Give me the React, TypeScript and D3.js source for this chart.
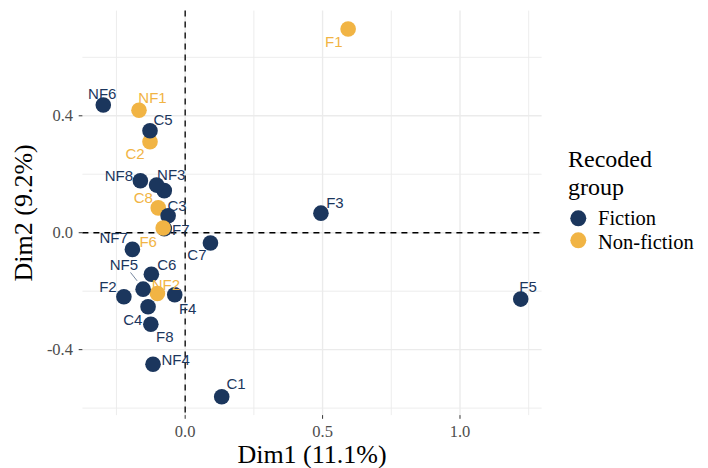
import React from 'react';
import * as d3 from 'd3';

// ---- data ----
const names = ["C1","C2","C8","C4","C5","C3","C6","C7","F1","F2","F3","F4","F5","F7","F6","F8","NF1","NF2","NF3","NF4","NF5","NF6","NF7","NF8","NF9"];
const dim1 = [0.133,-0.128,-0.098,-0.135,-0.128,-0.062,-0.123,0.092,0.593,-0.223,0.494,-0.038,1.221,-0.076,-0.080,-0.125,-0.168,-0.101,-0.076,-0.117,-0.153,-0.298,-0.192,-0.163,-0.104];
const dim2 = [-0.561,0.311,0.085,-0.253,0.349,0.058,-0.142,-0.035,0.697,-0.219,0.067,-0.212,-0.227,0.014,0.016,-0.313,0.419,-0.208,0.144,-0.450,-0.193,0.437,-0.057,0.178,0.163];
const groups = ["Fiction","Non-fiction","Non-fiction","Fiction","Fiction","Fiction","Fiction","Fiction","Non-fiction","Fiction","Fiction","Fiction","Fiction","Fiction","Non-fiction","Fiction","Non-fiction","Non-fiction","Fiction","Fiction","Fiction","Fiction","Fiction","Fiction","Fiction"];
const shownLabels = names.filter((n) => n !== "NF9");
const groupNames = ["Fiction", "Non-fiction"];
const xTicks = [0, 0.5, 1.0];
const xMinor = [-0.25, 0.25, 0.75, 1.25];
const yTicks = [-0.4, 0, 0.4];
const yMinor = [-0.6, -0.2, 0.2, 0.6];

// ---- layout (pixel offsets of repelled labels) ----
const labelOffset: Record<string, [number, number]> = {
  NF6: [-1, -11], NF1: [13.5, -13], C5: [13, -11], C2: [-15, 12], NF8: [-21.5, -5.5],
  NF3: [7, -16.5], C8: [-15, -10], C3: [9, -10.5], F6: [-15, 13.5], F7: [16.5, 1],
  NF7: [-18.7, -12], C7: [-13.5, 11.3], C6: [15.5, -10], NF5: [-19.3, -25], NF2: [8.5, -8.5],
  F4: [13, 13.5], F2: [-16, -10.5], C4: [-15.3, 12.5], F8: [14, 12], NF4: [22.7, -5],
  C1: [14.3, -12.7], F3: [14, -10.5], F5: [7.3, -12], F1: [-14.3, 13],
};

const W = 708, H = 468;
const panel = { left: 82.4, right: 541.6, top: 10.6, bottom: 415.1 };
const colors: Record<string, string> = { Fiction: "#1b365d", "Non-fiction": "#f1b444" };
const serif = "'Liberation Serif', 'Times New Roman', serif";
const sans = "'Liberation Sans', Arial, Helvetica, sans-serif";

function expand(ext: [number, number]): [number, number] {
  const r = ext[1] - ext[0];
  return [ext[0] - 0.05 * r, ext[1] + 0.05 * r];
}

export default function App() {
  const x = d3.scaleLinear().domain(expand(d3.extent(dim1) as [number, number])).range([panel.left, panel.right]);
  const y = d3.scaleLinear().domain(expand(d3.extent(dim2) as [number, number])).range([panel.bottom, panel.top]);
  const pts = names.map((n, i) => ({ n, g: groups[i], px: x(dim1[i]), py: y(dim2[i]) }));
  const grid = "#ebebeb";
  return (
    <svg width={W} height={H} style={{ position: 'absolute', left: 0, top: 0, background: '#fff' }}>
      {/* grid */}
      {xMinor.map((v) => (
        <line key={'xm' + v} x1={x(v)} x2={x(v)} y1={panel.top} y2={panel.bottom} stroke={grid} strokeWidth={0.9} />
      ))}
      {yMinor.map((v) => (
        <line key={'ym' + v} y1={y(v)} y2={y(v)} x1={panel.left} x2={panel.right} stroke={grid} strokeWidth={0.9} />
      ))}
      {xTicks.map((v) => (
        <line key={'xg' + v} x1={x(v)} x2={x(v)} y1={panel.top} y2={panel.bottom} stroke={grid} strokeWidth={1.4} />
      ))}
      {yTicks.map((v) => (
        <line key={'yg' + v} y1={y(v)} y2={y(v)} x1={panel.left} x2={panel.right} stroke={grid} strokeWidth={1.4} />
      ))}
      {/* reference lines */}
      <line x1={x(0)} x2={x(0)} y1={panel.top} y2={panel.bottom} stroke="#000" strokeWidth={1.3} strokeDasharray="6,5" />
      <line y1={y(0)} y2={y(0)} x1={panel.left} x2={panel.right} stroke="#000" strokeWidth={1.3} strokeDasharray="6,5" />
      {/* ticks */}
      {xTicks.map((v) => (
        <g key={'xt' + v}>
          <line x1={x(v)} x2={x(v)} y1={panel.bottom} y2={panel.bottom + 3.7} stroke="#333" strokeWidth={1} />
          <text x={x(v)} y={437} textAnchor="middle" fontFamily={serif} fontSize={16.5} fill="#4d4d4d">{v.toFixed(1)}</text>
        </g>
      ))}
      {yTicks.map((v) => (
        <g key={'yt' + v}>
          <line x1={panel.left - 3.7} x2={panel.left} y1={y(v)} y2={y(v)} stroke="#333" strokeWidth={1} />
          <text x={73} y={y(v) + 5.5} textAnchor="end" fontFamily={serif} fontSize={16.5} fill="#4d4d4d">{v.toFixed(1)}</text>
        </g>
      ))}
      {/* axis titles */}
      <text x={(panel.left + panel.right) / 2} y={463} textAnchor="middle" fontFamily={serif} fontSize={26} fill="#000">Dim1 (11.1%)</text>
      <text transform={`translate(31.5,${(panel.top + panel.bottom) / 2}) rotate(-90)`} textAnchor="middle" fontFamily={serif} fontSize={26} fill="#000">Dim2 (9.2%)</text>
      {/* points */}
      {pts.map((p, i) => (
        <circle key={'p' + i} cx={p.px} cy={p.py} r={7.8} fill={colors[p.g]} />
      ))}
      {/* NF5 segment */}
      {pts.filter((p) => p.n === "NF5").map((p) => (
        <line key="seg" x1={p.px - 12.6} y1={p.py - 16.7} x2={p.px - 6} y2={p.py - 8.3} stroke={colors[p.g]} strokeWidth={0.6} />
      ))}
      {/* labels */}
      {pts.filter((p) => shownLabels.includes(p.n)).map((p) => {
        const o = labelOffset[p.n] || [0, -12];
        return (
          <text key={'l' + p.n} x={p.px + o[0]} y={p.py + o[1]} dy="0.36em" textAnchor="middle" fontFamily={sans} fontSize={15} fill={colors[p.g]}>{p.n}</text>
        );
      })}
      {/* legend */}
      <text x={568} y={166.5} fontFamily={serif} fontSize={24} fill="#000">Recoded</text>
      <text x={568} y={195} fontFamily={serif} fontSize={24} fill="#000">group</text>
      {groupNames.map((g, i) => (
        <g key={'lg' + g}>
          <circle cx={578.3} cy={218.3 + i * 22} r={8} fill={colors[g]} />
          <text x={598} y={225 + i * 23.5} fontFamily={serif} fontSize={20.5} fill="#000">{g}</text>
        </g>
      ))}
    </svg>
  );
}
